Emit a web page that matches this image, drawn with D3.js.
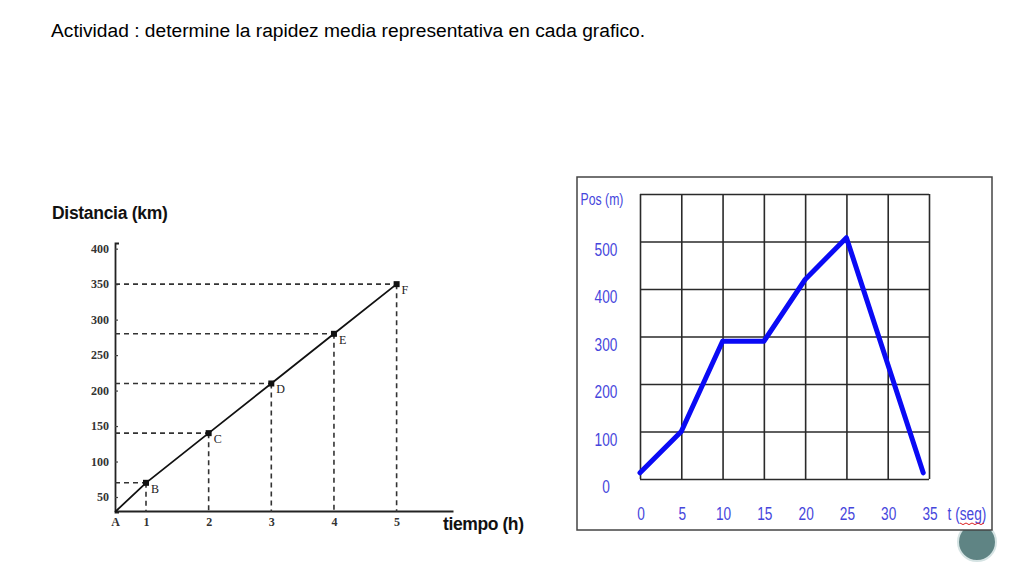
<!DOCTYPE html>
<html>
<head>
<meta charset="utf-8">
<script src="https://cdn.jsdelivr.net/npm/d3@7"></script>
<style>
  body { margin: 0; background: #fff; }
  svg { display: block; }
</style>
</head>
<body>
<div id="chart"></div>
<script>
// grafico 1: distancia vs tiempo
var horas = [0, 1, 2, 3, 4, 5];
var distancia = [0, 70, 140, 210, 280, 350];
var letras = ["A", "B", "C", "D", "E", "F"];
var distTicks = [50, 100, 150, 200, 250, 300, 350, 400];
var horaLabels = ["A", "1", "2", "3", "4", "5"];

// grafico 2: posicion vs tiempo
var tiempo = [0, 5, 10, 15, 20, 25, 34.3];
var posicion = [13, 100, 290, 290, 420, 508, 13];
var tTicks = [0, 5, 10, 15, 20, 25, 30, 35];
var posTicks = [0, 100, 200, 300, 400, 500];
var posGrid = [0, 100, 200, 300, 400, 500, 600];

var svg = d3.select("#chart")
  .append("svg")
  .attr("width", 1024)
  .attr("height", 576);

svg.append("text")
  .attr("x", 51)
  .attr("y", 37)
  .style("font-family", "'Liberation Sans', Arial, sans-serif")
  .style("font-size", "19.2px")
  .style("fill", "#000")
  .text("Actividad : determine la rapidez media representativa en cada grafico.");

// ---------- grafico izquierdo ----------
var xL = d3.scaleLinear().domain([0, 1, 5.9]).range([115, 146, 453]);
var yL = d3.scaleLinear().domain([0, 50, 408]).range([512, 497, 243]);
var serif = "'Liberation Serif', 'Times New Roman', serif";

var g1 = svg.append("g");

var yAxisL = d3.axisLeft(yL)
  .tickValues(distTicks)
  .tickSizeInner(-3)
  .tickSizeOuter(-4)
  .tickPadding(6);
g1.append("g").attr("transform", "translate(115,0)").call(yAxisL);

var xAxisL = d3.axisBottom(xL)
  .tickValues(horas)
  .tickFormat(function(d, i) { return horaLabels[i]; })
  .tickSize(0)
  .tickPadding(6);
g1.append("g").attr("transform", "translate(0,511)").call(xAxisL);

g1.selectAll(".domain").attr("stroke", "#222").attr("stroke-width", 1.8);
g1.selectAll(".tick line").attr("stroke", "#444").attr("stroke-width", 1.2);
g1.selectAll(".tick text")
  .style("font-family", serif)
  .style("font-size", "12px")
  .style("font-weight", "bold")
  .style("fill", "#333");

var pts = horas.map(function(h, i) { return {h: h, d: distancia[i], l: letras[i]}; }).slice(1);

// lineas punteadas
g1.selectAll("line.hguia")
  .data(pts)
  .enter()
  .append("line")
  .attr("class", "hguia")
  .attr("x1", xL(0))
  .attr("x2", function(d) { return xL(d.h); })
  .attr("y1", function(d) { return yL(d.d); })
  .attr("y2", function(d) { return yL(d.d); })
  .attr("stroke", "#333")
  .attr("stroke-width", 1.6)
  .attr("stroke-dasharray", "5,4");

g1.selectAll("line.vguia")
  .data(pts)
  .enter()
  .append("line")
  .attr("class", "vguia")
  .attr("x1", function(d) { return xL(d.h); })
  .attr("x2", function(d) { return xL(d.h); })
  .attr("y1", function(d) { return yL(d.d); })
  .attr("y2", yL(0))
  .attr("stroke", "#333")
  .attr("stroke-width", 1.6)
  .attr("stroke-dasharray", "5,4");

var lineaL = d3.line()
  .x(function(d, i) { return xL(horas[i]); })
  .y(function(d) { return yL(d); });

g1.append("path")
  .attr("d", lineaL(distancia))
  .attr("fill", "none")
  .attr("stroke", "#111")
  .attr("stroke-width", 1.8);

g1.selectAll("rect.punto")
  .data(pts)
  .enter()
  .append("rect")
  .attr("class", "punto")
  .attr("x", function(d) { return xL(d.h) - 3; })
  .attr("y", function(d) { return yL(d.d) - 3; })
  .attr("width", 6)
  .attr("height", 6)
  .attr("fill", "#111");

g1.selectAll("text.letra")
  .data(pts)
  .enter()
  .append("text")
  .attr("class", "letra")
  .attr("x", function(d) { return xL(d.h) + 5; })
  .attr("y", function(d) { return yL(d.d) + 10; })
  .style("font-family", serif)
  .style("font-size", "12px")
  .style("fill", "#222")
  .text(function(d) { return d.l; });

g1.append("text")
  .attr("x", 52)
  .attr("y", 219)
  .style("font-family", "'Liberation Sans', Arial, sans-serif")
  .style("font-weight", "bold")
  .style("font-size", "17.5px")
  .style("letter-spacing", "-0.3px")
  .style("fill", "#111")
  .text("Distancia (km)");

g1.append("text")
  .attr("x", 443)
  .attr("y", 530)
  .style("font-family", "'Liberation Sans', Arial, sans-serif")
  .style("font-weight", "bold")
  .style("font-size", "17.5px")
  .style("letter-spacing", "-0.4px")
  .style("fill", "#111")
  .text("tiempo (h)");

// ---------- grafico derecho ----------
svg.append("circle")
  .attr("cx", 977)
  .attr("cy", 542)
  .attr("r", 19)
  .attr("fill", "#5f8484")
  .attr("stroke", "#d5e3e3")
  .attr("stroke-width", 2);

svg.append("rect")
  .attr("x", 577)
  .attr("y", 177)
  .attr("width", 415)
  .attr("height", 353)
  .attr("fill", "#fff")
  .attr("stroke", "#444")
  .attr("stroke-width", 1.5);

var xR = d3.scaleLinear().domain([0, 35]).range([640, 929]);
var yR = d3.scaleLinear().domain([0, 600]).range([479, 194]);
var azul = "#4646dc";
var g2 = svg.append("g");

g2.append("g")
  .attr("transform", "translate(0,479)")
  .call(d3.axisBottom(xR).tickValues(tTicks).tickSize(-(479 - 194)).tickFormat(""));
g2.append("g")
  .attr("transform", "translate(640,0)")
  .call(d3.axisLeft(yR).tickValues(posGrid).tickSize(-(929 - 640)).tickFormat(""));
g2.selectAll(".domain").remove();
g2.selectAll(".tick line").attr("stroke", "#2a2a2a").attr("stroke-width", 1.6);

function textoAzul(sel) {
  sel.style("font-family", "'Liberation Sans', Arial, sans-serif")
    .style("font-size", "19px")
    .style("fill", azul)
    .attr("text-anchor", "middle");
}

g2.selectAll("text.tlab")
  .data(tTicks)
  .enter()
  .append("text")
  .attr("class", "tlab")
  .attr("transform", function(d) { return "translate(" + (xR(d) + 1) + ",520) scale(0.72,1)"; })
  .call(textoAzul)
  .text(function(d) { return d; });

g2.selectAll("text.plab")
  .data(posTicks)
  .enter()
  .append("text")
  .attr("class", "plab")
  .attr("transform", function(d) { return "translate(606," + (yR(d) + 14) + ") scale(0.72,1)"; })
  .call(textoAzul)
  .text(function(d) { return d; });

g2.append("text")
  .attr("transform", "translate(602,205) scale(0.72,1)")
  .call(textoAzul)
  .style("font-size", "17px")
  .text("Pos (m)");

g2.append("text")
  .attr("transform", "translate(967,520) scale(0.72,1)")
  .call(textoAzul)
  .text("t (seg)");

// subrayado rojo del corrector
var zig = d3.range(0, 9).map(function(i) { return [960 + i * 3, 523 + (i % 2) * 1.6]; });
g2.append("path")
  .attr("d", d3.line()(zig))
  .attr("fill", "none")
  .attr("stroke", "#d22")
  .attr("stroke-width", 1);

var lineaR = d3.line()
  .x(function(d, i) { return xR(tiempo[i]); })
  .y(function(d) { return yR(d); });

g2.append("path")
  .attr("d", lineaR(posicion))
  .attr("fill", "none")
  .attr("stroke", "#0a0af5")
  .attr("stroke-width", 5)
  .attr("stroke-linejoin", "round")
  .attr("stroke-linecap", "round");
</script>
</body>
</html>
